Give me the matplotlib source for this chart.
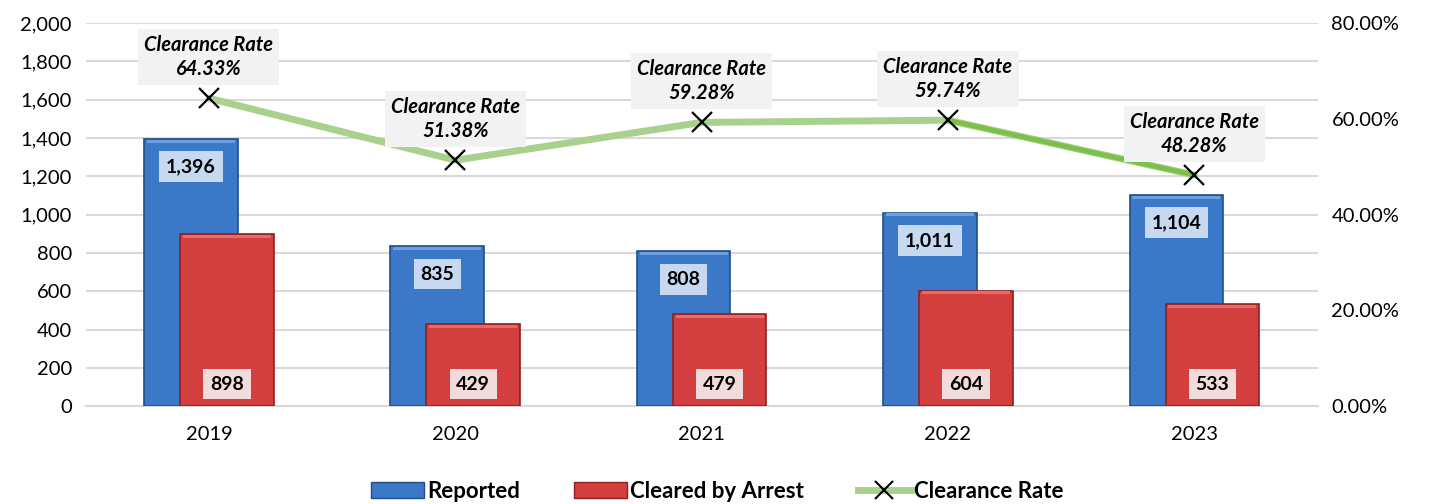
import numpy as np
import matplotlib.pyplot as plt
from matplotlib.patches import Patch
from matplotlib.lines import Line2D
from matplotlib.ticker import FuncFormatter

plt.rcParams['font.family'] = ['Lato', 'DejaVu Sans']

# Data
years = ['2019', '2020', '2021', '2022', '2023']
reported = [1396, 835, 808, 1011, 1104]
cleared = [898, 429, 479, 604, 533]
clearance_rate = [64.33, 51.38, 59.28, 59.74, 48.28]

x = np.arange(len(years))
width = 0.38
offset = 0.073

fig = plt.figure(figsize=(14.29, 5.04), dpi=100)
ax = fig.add_axes([0.060, 0.194, 0.862, 0.760])
ax2 = ax.twinx()

blue = '#3B78C8'
red = '#D33F3E'

# Bars
b1 = ax.bar(x - offset, reported, width, color=blue, edgecolor='#1F4E8C', linewidth=1.2, zorder=3)
b2 = ax.bar(x + offset, cleared, width, color=red, edgecolor='#8E1F1F', linewidth=1.2, zorder=4)

# light bevel on top of bars
for bars, hl in ((b1, '#6E9FDF'), (b2, '#E86B69')):
    for b in bars:
        ax.bar(b.get_x() + b.get_width() / 2, 16, b.get_width() * 0.94,
               bottom=b.get_height() - 20, color=hl, zorder=b.get_zorder() + 0.1, linewidth=0)

# Bar value labels
for b, v in zip(b1, reported):
    ax.annotate(f'{v:,}', (b.get_x() + b.get_width() / 2, b.get_height()),
                xytext=(0, -20), textcoords='offset points', ha='center', va='center',
                fontsize=14, fontweight='bold', zorder=10,
                bbox=dict(boxstyle='square,pad=0.35', fc='#C6D9F1', ec='none'))
for b, v in zip(b2, cleared):
    ax.annotate(f'{v:,}', (b.get_x() + b.get_width() / 2, 0),
                xytext=(0, 16), textcoords='offset points', ha='center', va='center',
                fontsize=14, fontweight='bold', zorder=10,
                bbox=dict(boxstyle='square,pad=0.35', fc='#F2DCDB', ec='none'))

ax.set_ylim(0, 2000)
ax.set_yticks(np.arange(0, 2001, 200))
ax.yaxis.set_major_formatter(FuncFormatter(lambda v, p: f'{int(v):,}'))
ax.set_xlim(-0.5, len(years) - 0.5)
ax.set_xticks(x)
ax.set_xticklabels(years)
ax.grid(axis='y', color='#D9D9D9', linewidth=1.5, zorder=0)
ax.set_axisbelow(True)
for s in ax.spines.values():
    s.set_visible(False)
ax.spines['bottom'].set_visible(True)
ax.spines['bottom'].set_color('#D9D9D9')
ax.spines['bottom'].set_linewidth(1.5)
ax.tick_params(axis='both', length=0, labelsize=14.5, pad=10)
ax.tick_params(axis='x', pad=14)

# Clearance rate line
ax2.plot(x, clearance_rate, color='#A9D18E', linewidth=5, zorder=5, solid_capstyle='round')
ax2.plot(x[3:], clearance_rate[3:], color='#7CC04A', linewidth=3.5, zorder=5)
ax2.plot(x, clearance_rate, linestyle='none', marker='x', markersize=15,
         markeredgewidth=1.6, color='black', zorder=6)
for xi, v in zip(x, clearance_rate):
    ax2.annotate(f'Clearance Rate\n{v:.2f}%', (xi, v), xytext=(0, 14),
                 textcoords='offset points', ha='center', va='bottom',
                 fontsize=14.5, fontweight='bold', fontstyle='italic', linespacing=1.25,
                 bbox=dict(boxstyle='square,pad=0.3', fc='#F2F2F2', ec='none'), zorder=10)

ax2.set_ylim(0, 80)
ax2.set_yticks(np.arange(0, 81, 20))
ax2.yaxis.set_major_formatter(FuncFormatter(lambda v, p: f'{v:.2f}%'))
for s in ax2.spines.values():
    s.set_visible(False)
ax2.tick_params(axis='y', length=0, labelsize=14.5, pad=10)

# Legend
handles = [
    Patch(facecolor=blue, edgecolor='#1F4E8C', label='Reported'),
    Patch(facecolor=red, edgecolor='#8E1F1F', label='Cleared by Arrest'),
    Line2D([0], [0], color='#A9D18E', linewidth=5, marker='x', markersize=13,
           markeredgecolor='black', markeredgewidth=1.5, label='Clearance Rate'),
]
fig.legend(handles=handles, loc='center', bbox_to_anchor=(0.502, 0.025), ncol=3,
           frameon=False, prop={'size': 16, 'weight': 'bold'},
           handlelength=2.4, handleheight=0.7, columnspacing=2.4, handletextpad=0.15)

plt.savefig('out.png', dpi=100)
plt.close()
